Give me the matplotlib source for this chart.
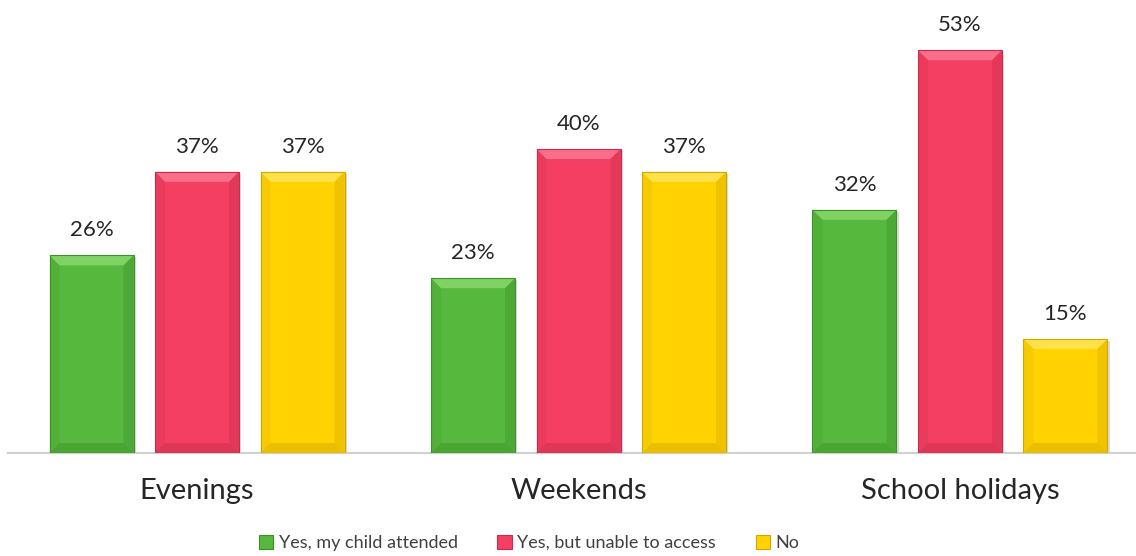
import matplotlib
matplotlib.use("Agg")
import matplotlib.pyplot as plt
from matplotlib.patches import Polygon, Rectangle
import numpy as np

categories = ["Evenings", "Weekends", "School holidays"]
series_names = ["Yes, my child attended", "Yes, but unable to access", "No"]
attended = [26, 23, 32]
unable = [37, 40, 53]
no = [37, 37, 15]
series_values = [attended, unable, no]
colors = ["#56b83c", "#f43f62", "#ffd200"]
light = ["#8fdc73", "#fb7f98", "#ffe766"]
dark = ["#3f8f2a", "#c42d4b", "#d2a800"]

W, H, DPI = 1136, 556, 100
fig = plt.figure(figsize=(W / DPI, H / DPI), dpi=DPI)
ax_left, ax_right, ax_top, ax_bot = 8, 1136, 0, 453
ax = fig.add_axes([ax_left / W, 1 - ax_bot / H, (ax_right - ax_left) / W, (ax_bot - ax_top) / H])

x = np.arange(len(categories))
pitch = 381.5
xl0 = (ax_left - 197) / pitch
xl1 = (ax_right - 197) / pitch
ax.set_xlim(xl0, xl1)
ymax = 453 / 7.6
ax.set_ylim(0, ymax)
width = 84 / pitch
offsets = [-105.5 / pitch, 0, 105.5 / pitch]

# pixel -> data scale
dx_px = (xl1 - xl0) / (ax_right - ax_left)
dy_px = ymax / (ax_bot - ax_top)
bev = 10

for i, (vals, c) in enumerate(zip(series_values, colors)):
    bars = ax.bar(x + offsets[i], vals, width, color=c, zorder=3, label=series_names[i])
    for b in bars:
        x0, w, h = b.get_x(), b.get_width(), b.get_height()
        x1 = x0 + w
        bx, by = bev * dx_px, bev * dy_px
        # shadow
        ax.add_patch(Rectangle((x0 + 2 * dx_px, -0.0), w, h - 2 * dy_px, color="#bbbbbb",
                               alpha=0.5, zorder=2, lw=0))
        # top bevel
        ax.add_patch(Polygon([(x0, h), (x1, h), (x1 - bx, h - by), (x0 + bx, h - by)],
                             closed=True, color=light[i], lw=0, zorder=4, alpha=0.75))
        # bottom bevel
        ax.add_patch(Polygon([(x0, 0), (x1, 0), (x1 - bx, by), (x0 + bx, by)],
                             closed=True, color=dark[i], lw=0, zorder=4, alpha=0.45))
        # left bevel
        ax.add_patch(Polygon([(x0, 0), (x0, h), (x0 + bx, h - by), (x0 + bx, by)],
                             closed=True, color=dark[i], lw=0, zorder=4, alpha=0.18))
        # right bevel
        ax.add_patch(Polygon([(x1, 0), (x1, h), (x1 - bx, h - by), (x1 - bx, by)],
                             closed=True, color=dark[i], lw=0, zorder=4, alpha=0.35))
        ax.add_patch(Rectangle((x0, 0), w, h, fill=False, ec=dark[i], lw=0.8, zorder=5))
        ax.annotate(f"{int(round(h))}%", (x0 + w / 2, h), xytext=(0, 11),
                    textcoords="offset points", ha="center", va="bottom",
                    fontsize=16, color="#262626", family="Lato")

for s in ["top", "right", "left"]:
    ax.spines[s].set_visible(False)
ax.spines["bottom"].set_color("#d0d0d0")
ax.spines["bottom"].set_linewidth(1.5)
ax.set_yticks([])
ax.set_xticks(x)
ax.set_xticklabels(categories, fontsize=21, family="Lato", color="#262626")
ax.tick_params(axis="x", length=0, pad=18)

handles = [Rectangle((0, 0), 1, 1, fc=c, ec=d, lw=0.8) for c, d in zip(colors, dark)]
fig.legend(handles, series_names, loc="center", bbox_to_anchor=(529 / W, 1 - 543 / H),
           ncol=3, frameon=False, prop={"family": "Lato", "size": 13},
           handlelength=0.8, handleheight=0.8, handletextpad=0.3, columnspacing=2.2,
           labelcolor="#404040")

fig.savefig("out.png", dpi=DPI, facecolor="white")
